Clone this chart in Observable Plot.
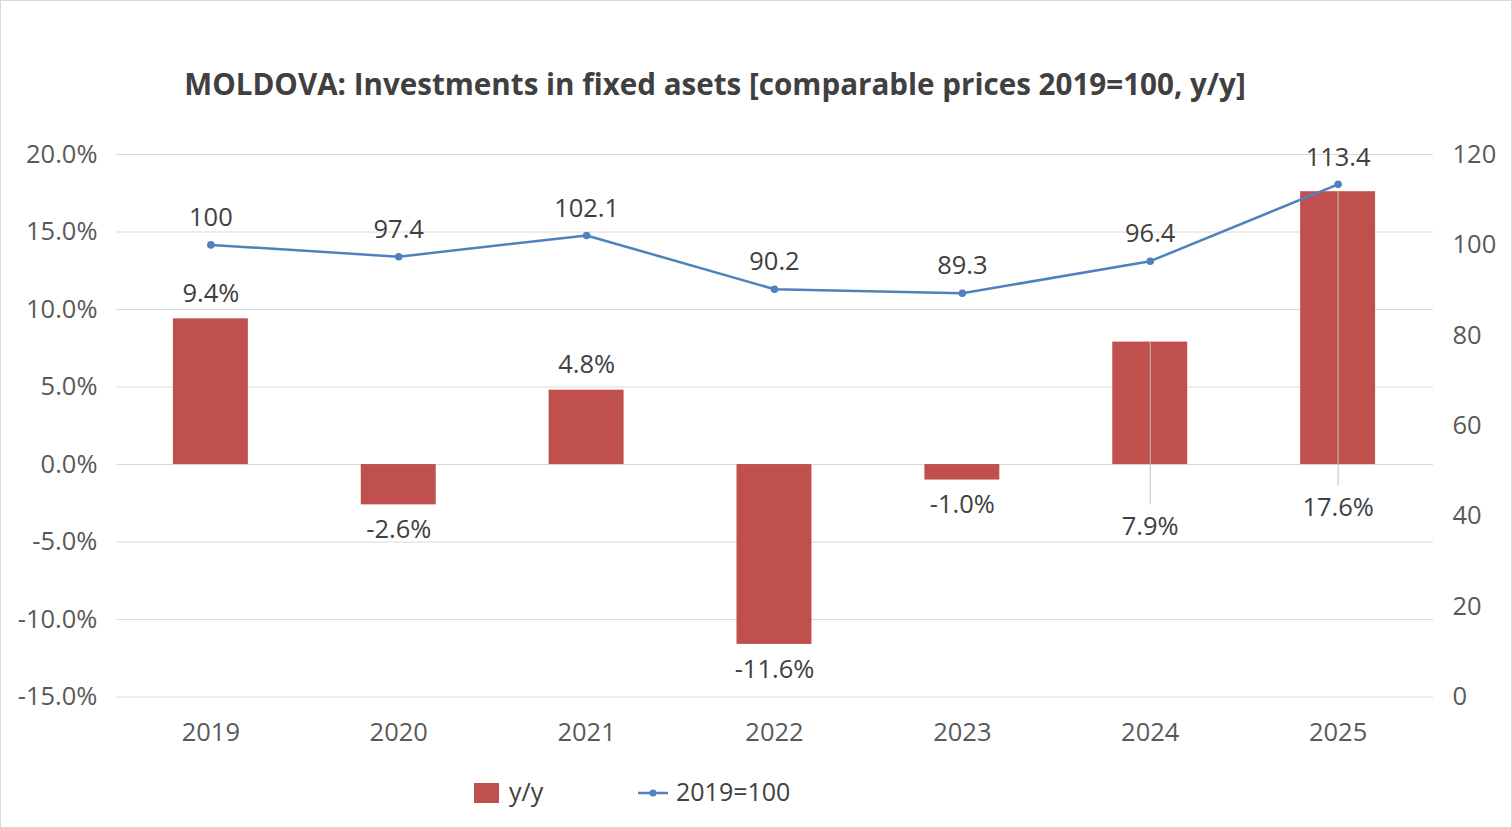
<!DOCTYPE html>
<html>
<head>
<meta charset="utf-8">
<script src="https://cdn.jsdelivr.net/npm/d3@7"></script>
<script src="https://cdn.jsdelivr.net/npm/@observablehq/plot@0.6"></script>
<style>
  html, body { margin: 0; padding: 0; background: #fff; }
  #frame { position: relative; width: 1510px; height: 826px; border: 1px solid #d9d9d9; overflow: hidden; font-family: "Open Sans", sans-serif; color: #404040; }
  #title { position: absolute; left: 0; width: 1428px; top: 62px; text-align: center; font-weight: 700; font-size: 29.6px; color: #404040; white-space: nowrap; }
  #chart { position: absolute; left: -1px; top: 128px; }
  #legend { position: absolute; top: 772px; left: 0; width: 100%; height: 40px; font-size: 25px; color: #404040; }
  .sw { position: absolute; }
</style>
</head>
<body>
<div id="frame">
  <div id="title">MOLDOVA: Investments in fixed asets [comparable prices 2019=100, y/y]</div>
  <div id="chart"></div>
  <div id="legend">
    <div class="sw" style="left:473px; top:10px; width:25px; height:20px; background:#C0504D;"></div>
    <div class="sw" style="left:508px; top:1px;">y/y</div>
    <svg class="sw" style="left:636px; top:12px;" width="32" height="16"><line x1="1" y1="8" x2="31" y2="8" stroke="#4F81BD" stroke-width="2.5"/><circle cx="16" cy="8" r="3.5" fill="#4F81BD"/></svg>
    <div class="sw" style="left:675px; top:1px;">2019=100</div>
  </div>
</div>
<script>
const years = ["2019", "2020", "2021", "2022", "2023", "2024", "2025"];
const yoy = [9.4, -2.6, 4.8, -11.6, -1.0, 7.9, 17.6];
const index2019 = [100, 97.4, 102.1, 90.2, 89.3, 96.4, 113.4];
const leftTicks = [-15, -10, -5, 0, 5, 10, 15, 20];
const rightTicks = [0, 20, 40, 60, 80, 100, 120];
// manually placed y/y labels (value-axis units) with leader lines, as in the source
const movedLabelAt = { "2024": -4.0, "2025": -2.8 };
const leaderEnd = { "2024": -2.6, "2025": -1.4 };

const leftMin = -15, leftMax = 20, rightMin = 0, rightMax = 120;
const toLeft = v => leftMin + (v - rightMin) * (leftMax - leftMin) / (rightMax - rightMin);
const toRight = d => Math.round(rightMin + (d - leftMin) * (rightMax - rightMin) / (leftMax - leftMin));

const data = years.map((year, i) => ({ year, yoy: yoy[i], idx: index2019[i], idxL: toLeft(index2019[i]) }));
const normal = data.filter(d => !(d.year in movedLabelAt));
const pos = normal.filter(d => d.yoy >= 0);
const neg = normal.filter(d => d.yoy < 0);
const moved = data.filter(d => d.year in movedLabelAt).map(d => ({ ...d, ly: movedLabelAt[d.year], le: leaderEnd[d.year] }));
const fmtPct = v => v.toFixed(1) + "%";
const FONT = "Open Sans, sans-serif";
const FS = 25.5;

const chart = Plot.plot({
  width: 1512,
  height: 630,
  marginTop: 25,
  marginBottom: 62,
  marginLeft: 116,
  marginRight: 78,
  style: { fontFamily: FONT, background: "transparent" },
  x: { domain: years, paddingInner: 0.6, paddingOuter: 0.3, axis: null },
  y: { domain: [leftMin, leftMax], axis: null },
  marks: [
    Plot.gridY(leftTicks, { stroke: "#d9d9d9", strokeOpacity: 1, strokeWidth: 1 }),
    Plot.barY(data, { x: "year", y: "yoy", fill: "#C0504D" }),
    Plot.ruleX(moved, { x: "year", y1: "yoy", y2: "le", stroke: "#bfbfbf", strokeWidth: 1 }),
    Plot.lineY(data, { x: "year", y: "idxL", stroke: "#4F81BD", strokeWidth: 2.5 }),
    Plot.dot(data, { x: "year", y: "idxL", r: 3.8, fill: "#4F81BD" }),
    Plot.text(data, { x: "year", y: "idxL", text: d => String(d.idx), dy: -27, fontSize: FS, fill: "#404040", lineAnchor: "middle" }),
    Plot.text(pos, { x: "year", y: "yoy", text: d => fmtPct(d.yoy), dy: -25, fontSize: FS, fill: "#404040", lineAnchor: "middle" }),
    Plot.text(neg, { x: "year", y: "yoy", text: d => fmtPct(d.yoy), dy: 25, fontSize: FS, fill: "#404040", lineAnchor: "middle" }),
    Plot.text(moved, { x: "year", y: "ly", text: d => fmtPct(d.yoy), fontSize: FS, fill: "#404040", lineAnchor: "middle" }),
    Plot.axisY(leftTicks, { anchor: "left", tickSize: 0, tickPadding: 19, tickFormat: fmtPct, fontSize: FS, fill: "#595959", label: null }),
    Plot.axisY(rightTicks.map(toLeft), { anchor: "right", tickSize: 0, tickPadding: 19, tickFormat: toRight, fontSize: FS, fill: "#595959", label: null, textAnchor: "start" }),
    Plot.axisX({ tickSize: 0, tickPadding: 26, fontSize: FS, fill: "#595959", label: null })
  ]
});
document.getElementById("chart").appendChild(chart);
</script>
</body>
</html>
